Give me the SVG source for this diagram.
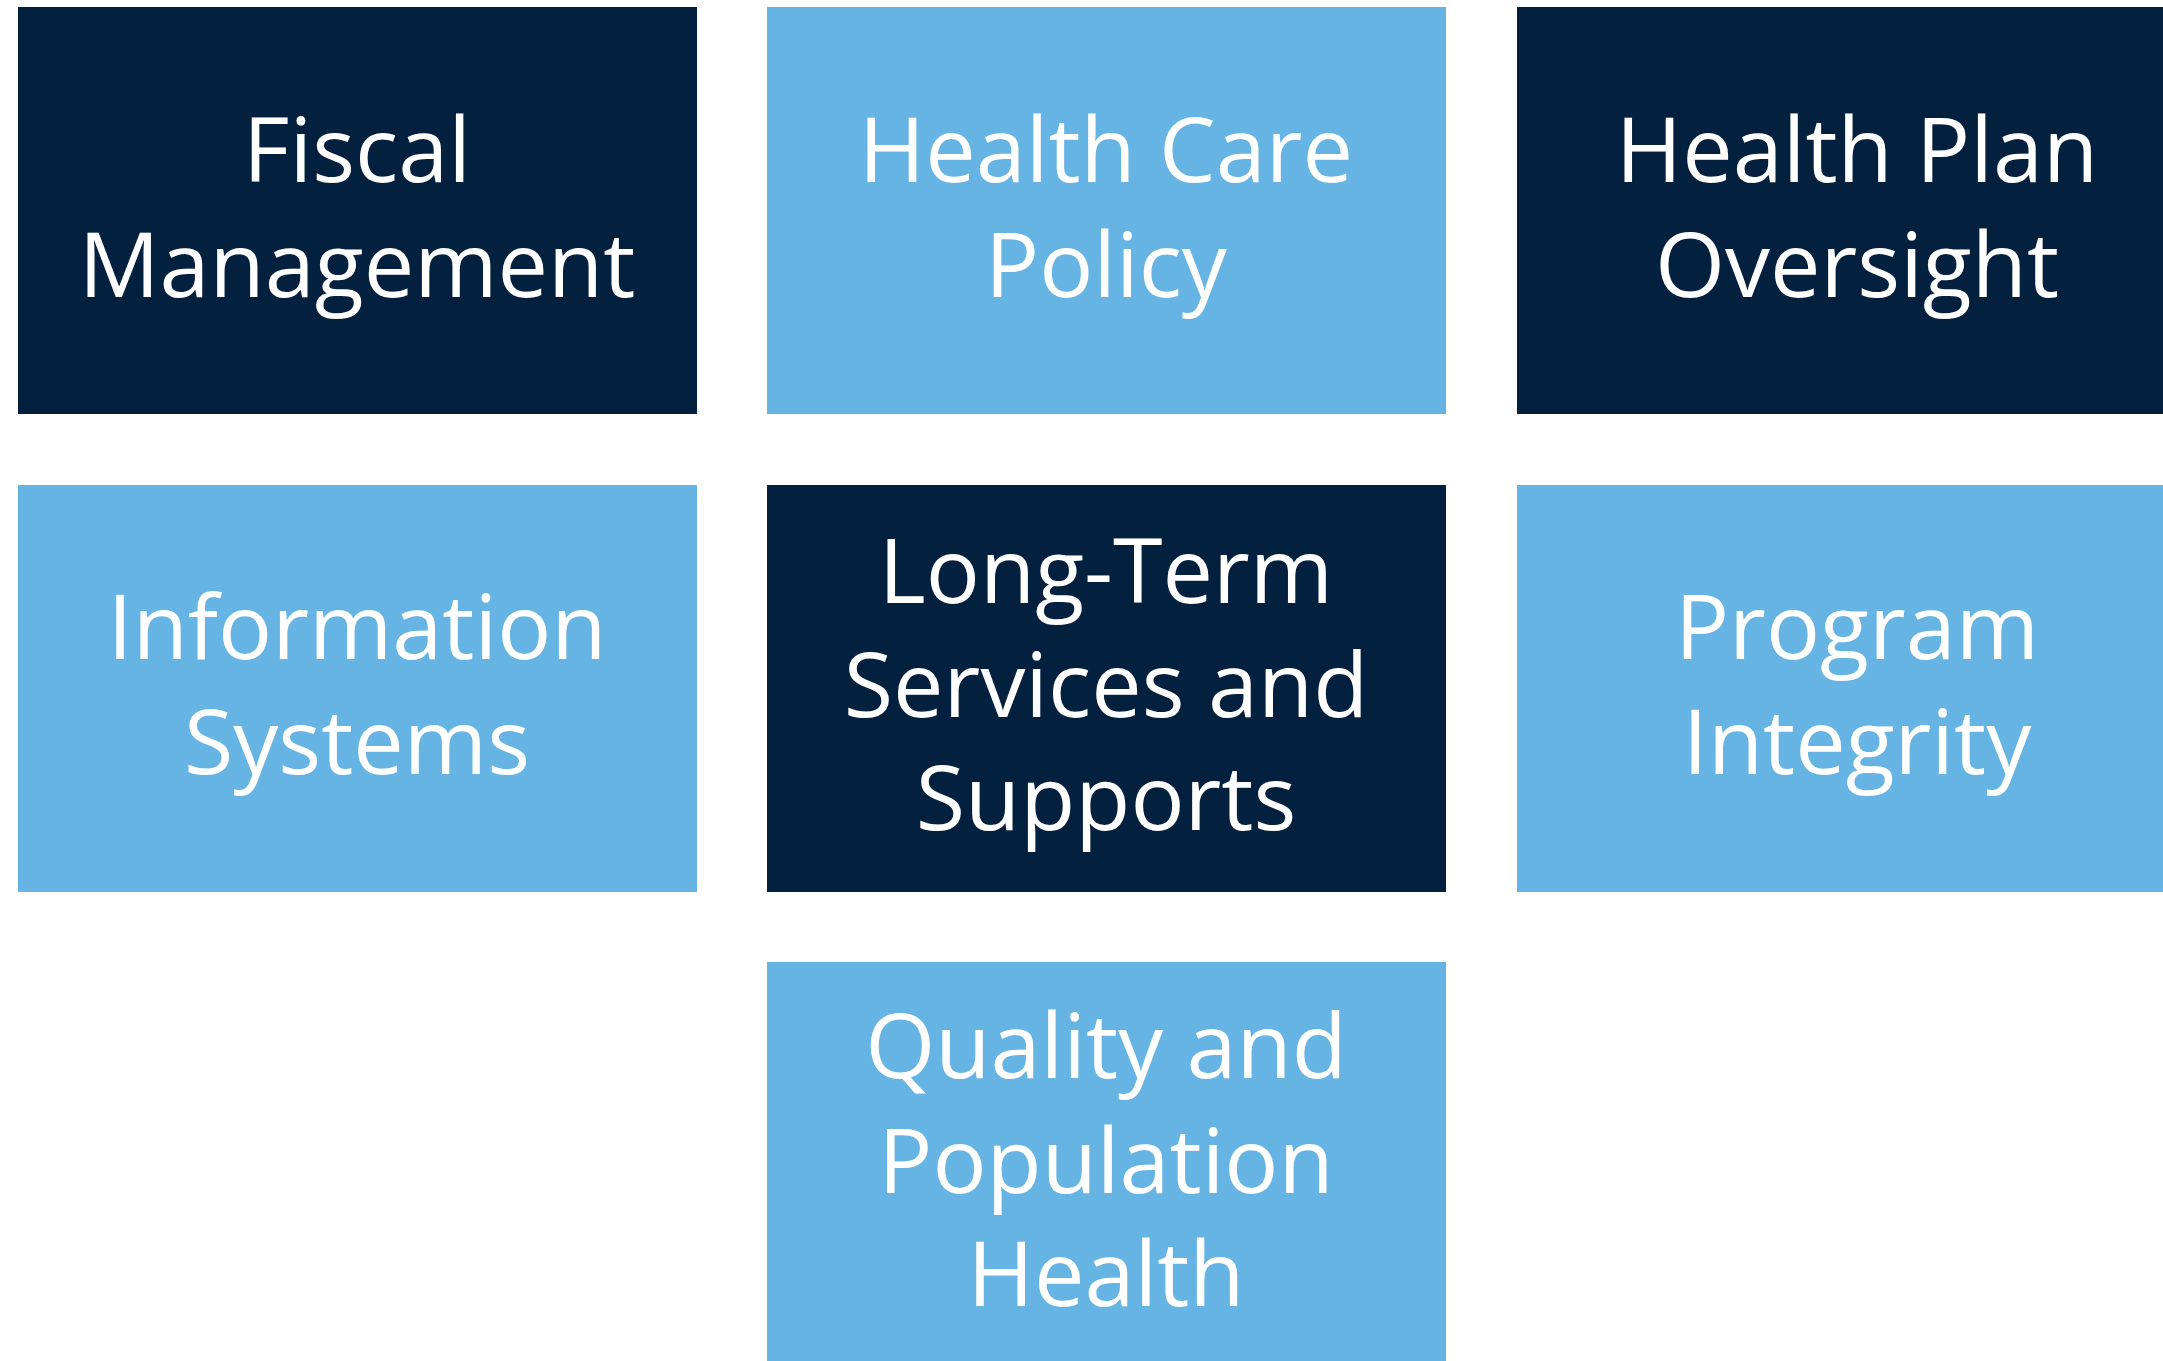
<svg xmlns="http://www.w3.org/2000/svg" width="2163" height="1361" viewBox="0 0 2163 1361">
<style>
.dark{fill:#03203F}
.light{fill:#65B4E4}
.t{font-family:"Open Sans","Noto Sans",sans-serif;font-size:90px;fill:#FFFFFF;text-anchor:middle}
</style>
<rect x="0" y="0" width="2163" height="1361" fill="#FFFFFF"/>
<g id="connectors"></g>
<g id="fiscal-management">
<rect class="dark" x="18" y="7" width="679" height="407"/>
<text class="t" x="357" y="182">Fiscal</text>
<text class="t" x="357" y="297">Management</text>
</g>
<g id="health-care-policy">
<rect class="light" x="767" y="7" width="679" height="407"/>
<text class="t" x="1106" y="182">Health Care</text>
<text class="t" x="1106" y="297">Policy</text>
</g>
<g id="health-plan-oversight">
<rect class="dark" x="1517" y="7" width="679" height="407"/>
<text class="t" x="1857" y="182">Health Plan</text>
<text class="t" x="1857" y="297">Oversight</text>
</g>
<g id="information-systems">
<rect class="light" x="18" y="485" width="679" height="407"/>
<text class="t" x="357" y="659">Information</text>
<text class="t" x="357" y="774">Systems</text>
</g>
<g id="ltss">
<rect class="dark" x="767" y="485" width="679" height="407"/>
<text class="t" x="1106" y="603">Long-Term</text>
<text class="t" x="1106" y="717">Services and</text>
<text class="t" x="1106" y="830">Supports</text>
</g>
<g id="program-integrity">
<rect class="light" x="1517" y="485" width="679" height="407"/>
<text class="t" x="1857" y="659">Program</text>
<text class="t" x="1857" y="774">Integrity</text>
</g>
<g id="quality-population-health">
<rect class="light" x="767" y="962" width="679" height="407"/>
<text class="t" x="1106" y="1078">Quality and</text>
<text class="t" x="1106" y="1193">Population</text>
<text class="t" x="1106" y="1306">Health</text>
</g>
</svg>
